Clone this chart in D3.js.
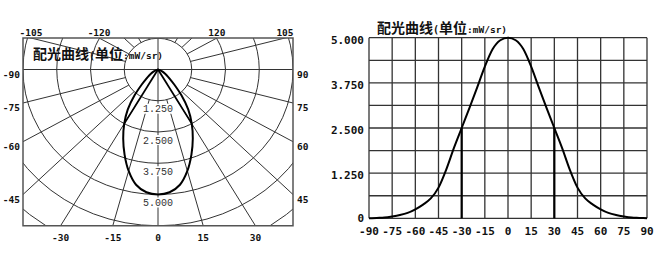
<!DOCTYPE html>
<html>
<head>
<meta charset="utf-8">
<script src="https://cdn.jsdelivr.net/npm/d3@7"></script>
<style>
  body { margin: 0; background: #fff; }
  svg { display: block; }
</style>
</head>
<body>
<svg id="chart" width="672" height="261"></svg>
<script>
// readings: angle (deg) and intensity (mW/sr)
const angles = [-90, -85, -80, -75, -70, -65, -60, -55, -50, -45, -40, -35, -30, -25, -20, -15, -10, -5,
  0, 5, 10, 15, 20, 25, 30, 35, 40, 45, 50, 55, 60, 65, 70, 75, 80, 85, 90];
const intensity = [0, 0.01, 0.02, 0.05, 0.09, 0.15, 0.25, 0.38, 0.55, 0.85, 1.35, 1.95, 2.5, 3.05, 3.62, 4.2, 4.68, 4.93,
  5.0, 4.93, 4.68, 4.2, 3.62, 3.05, 2.5, 1.95, 1.35, 0.85, 0.55, 0.38, 0.25, 0.15, 0.09, 0.05, 0.02, 0.01, 0];
const beamAngles = [-30, 30];
const beamLevel = 2.5;

// polar chart grid
const ringLevels = [1.25, 2.5, 3.75, 5, 6.25, 7.5, 8.75];
const ringLabels = ['1.250', '2.500', '3.750', '5.000'];
const spokeAngles = [-165, -150, -135, -120, -105, -75, -60, -45, -30, -15, 15, 30, 45, 60, 75, 105, 120, 135, 150, 165];
const edgeTicks = [-120, -105, -90, -75, -60, -45, -30, -15, 0, 15, 30, 45, 60, 75, 90, 105, 120];

// cartesian chart axes
const xTicks = [-90, -75, -60, -45, -30, -15, 0, 15, 30, 45, 60, 75, 90];
const yGrid = [0, 0.625, 1.25, 1.875, 2.5, 3.125, 3.75, 4.375, 5];
const yTicks = [0, 1.25, 2.5, 3.75, 5];
const yTickLabels = ['0', '1.250', '2.500', '3.750', '5.000'];

const svg = d3.select('#chart');
const rad = (d) => (d * Math.PI) / 180;
const monoFont = "'DejaVu Sans Mono', 'Liberation Mono', monospace";
const thinMono = "'Liberation Mono', monospace";
const cjkFont = "'Noto Sans CJK SC', sans-serif";
const gridColor = '#333';

function drawTitle(x, y) {
  const t = svg.append('text').attr('x', x).attr('y', y).attr('fill', '#111');
  t.append('tspan').attr('font-family', cjkFont).attr('font-weight', 700).attr('font-size', 14).text('配光曲线');
  t.append('tspan').attr('font-family', monoFont).attr('font-weight', 700).attr('font-size', 10).text('(');
  t.append('tspan').attr('font-family', cjkFont).attr('font-weight', 700).attr('font-size', 14).text('单位');
  t.append('tspan').attr('font-family', monoFont).attr('font-weight', 700).attr('font-size', 9.5).text(':mW/sr)');
}

// ---------- left: polar chart ----------
const px = d3.scaleLinear().domain([-5, 5]).range([23, 293]);
const py = d3.scaleLinear().domain([0, 6.25]).range([69.5, 225.75]);
const yTop = py.invert(38);
const polarPt = (a, v) => [px(v * Math.sin(rad(a))), py(v * Math.cos(rad(a)))];

svg.append('defs').append('clipPath').attr('id', 'polar-clip')
  .append('rect')
  .attr('x', px(-5)).attr('y', py(yTop))
  .attr('width', px(5) - px(-5)).attr('height', py(6.25) - py(yTop));

const polarG = svg.append('g').attr('clip-path', 'url(#polar-clip)');

polarG.selectAll('ellipse')
  .data(ringLevels)
  .join('ellipse')
  .attr('cx', px(0))
  .attr('cy', py(0))
  .attr('rx', (d) => px(d) - px(0))
  .attr('ry', (d) => py(d) - py(0))
  .attr('fill', 'none')
  .attr('stroke', gridColor)
  .attr('stroke-width', 1);

polarG.selectAll('line.spoke')
  .data(spokeAngles)
  .join('line')
  .attr('class', 'spoke')
  .attr('x1', (d) => polarPt(d, 1.25)[0])
  .attr('y1', (d) => polarPt(d, 1.25)[1])
  .attr('x2', (d) => polarPt(d, 14)[0])
  .attr('y2', (d) => polarPt(d, 14)[1])
  .attr('stroke', gridColor)
  .attr('stroke-width', 1);

// axes through the centre
polarG.append('line')
  .attr('x1', px(-5)).attr('x2', px(5))
  .attr('y1', py(0)).attr('y2', py(0))
  .attr('stroke', gridColor);
polarG.append('line')
  .attr('x1', px(0)).attr('x2', px(0))
  .attr('y1', py(yTop)).attr('y2', py(6.25))
  .attr('stroke', gridColor);

drawTitle(33, 59);

// beam angle lines
polarG.selectAll('line.beam')
  .data(beamAngles)
  .join('line')
  .attr('class', 'beam')
  .attr('x1', px(0)).attr('y1', py(0))
  .attr('x2', (d) => polarPt(d, beamLevel)[0])
  .attr('y2', (d) => polarPt(d, beamLevel)[1])
  .attr('stroke', '#000')
  .attr('stroke-width', 1.8);

const polarLine = d3.line().curve(d3.curveCatmullRom);
polarG.append('path')
  .attr('d', polarLine(angles.map((a, i) => polarPt(a, intensity[i]))))
  .attr('fill', 'none')
  .attr('stroke', '#000')
  .attr('stroke-width', 2);

// ring value labels with white box
const ringLab = svg.append('g').selectAll('g')
  .data(ringLabels)
  .join('g')
  .attr('transform', (d, i) => `translate(${px(0)},${py(ringLevels[i]) + 3})`);
ringLab.append('rect')
  .attr('x', -15).attr('y', 0).attr('width', 30).attr('height', 10)
  .attr('fill', '#fff');
ringLab.append('text')
  .attr('y', 8.5)
  .attr('text-anchor', 'middle')
  .attr('font-family', thinMono)
  .attr('font-size', 10)
  .attr('fill', '#333')
  .text((d) => d);

svg.append('rect')
  .attr('x', px(-5)).attr('y', py(yTop))
  .attr('width', px(5) - px(-5)).attr('height', py(6.25) - py(yTop))
  .attr('fill', 'none')
  .attr('stroke', '#555')
  .attr('stroke-width', 1.5);

// where each labelled ray meets the frame
function edgeHit(a) {
  const dx = Math.sin(rad(a));
  const dy = Math.cos(rad(a));
  const ts = [];
  if (dx > 1e-9) ts.push([5 / dx, 'right']);
  if (dx < -1e-9) ts.push([-5 / dx, 'left']);
  if (dy > 1e-9) ts.push([6.25 / dy, 'bottom']);
  if (dy < -1e-9) ts.push([yTop / dy, 'top']);
  const [t, side] = ts.sort((p, q) => p[0] - q[0])[0];
  return { x: px(t * dx), y: py(t * dy), side };
}

svg.append('g').selectAll('text')
  .data(edgeTicks)
  .join('text')
  .each(function (d) {
    const h = edgeHit(d);
    const t = d3.select(this);
    if (h.side === 'bottom') t.attr('x', h.x).attr('y', h.y + 15).attr('text-anchor', 'middle');
    if (h.side === 'top') t.attr('x', h.x).attr('y', h.y - 2).attr('text-anchor', 'middle');
    if (h.side === 'left') t.attr('x', h.x - 3).attr('y', h.y + 8).attr('text-anchor', 'end');
    if (h.side === 'right') t.attr('x', h.x + 4).attr('y', h.y + 8).attr('text-anchor', 'start');
  })
  .attr('font-family', monoFont)
  .attr('font-weight', 700)
  .attr('font-size', 9.5)
  .attr('fill', '#111')
  .text((d) => d);

// ---------- right: cartesian chart ----------
const x = d3.scaleLinear().domain([-90, 90]).range([369, 647]);
const y = d3.scaleLinear().domain([0, 5]).range([218.3, 37.7]);

const gridG = svg.append('g');
gridG.selectAll('line.v')
  .data(xTicks)
  .join('line')
  .attr('class', 'v')
  .attr('x1', (d) => x(d)).attr('x2', (d) => x(d))
  .attr('y1', y(0)).attr('y2', y(5))
  .attr('stroke', gridColor)
  .attr('stroke-width', 1.3);
gridG.selectAll('line.h')
  .data(yGrid)
  .join('line')
  .attr('class', 'h')
  .attr('x1', x(-90)).attr('x2', x(90))
  .attr('y1', (d) => y(d)).attr('y2', (d) => y(d))
  .attr('stroke', gridColor)
  .attr('stroke-width', 1.3);

svg.append('g').selectAll('line')
  .data(beamAngles)
  .join('line')
  .attr('x1', (d) => x(d)).attr('x2', (d) => x(d))
  .attr('y1', y(0)).attr('y2', y(beamLevel))
  .attr('stroke', '#000')
  .attr('stroke-width', 2.2);

const line = d3.line()
  .x((d, i) => x(angles[i]))
  .y((d) => y(d))
  .curve(d3.curveMonotoneX);
svg.append('path')
  .attr('d', line(intensity))
  .attr('fill', 'none')
  .attr('stroke', '#000')
  .attr('stroke-width', 2);

svg.append('g').selectAll('text')
  .data(yTicks)
  .join('text')
  .attr('x', 364)
  .attr('y', (d) => y(d) + (d === 0 ? 4 : 6))
  .attr('text-anchor', 'end')
  .attr('font-family', monoFont)
  .attr('font-weight', 700)
  .attr('font-size', 11)
  .attr('fill', '#111')
  .text((d, i) => yTickLabels[i]);

svg.append('g').selectAll('text')
  .data(xTicks)
  .join('text')
  .attr('x', (d) => x(d))
  .attr('y', y(0) + 17)
  .attr('text-anchor', 'middle')
  .attr('font-family', monoFont)
  .attr('font-weight', 700)
  .attr('font-size', 11)
  .attr('fill', '#111')
  .text((d) => d);

drawTitle(377, 33);
</script>
</body>
</html>
